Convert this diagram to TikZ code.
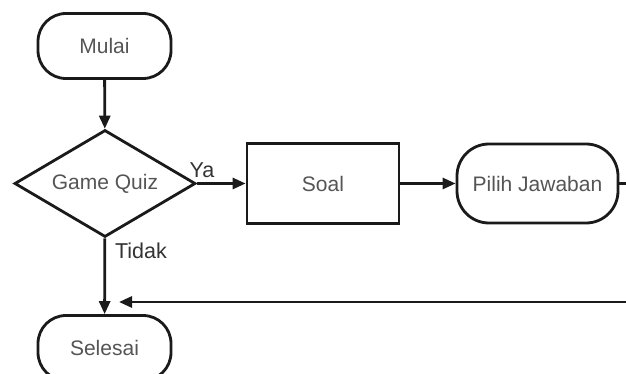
\documentclass[tikz,border=0pt]{standalone}
\usepackage{fontspec}
\setmainfont{Liberation Sans}
\usetikzlibrary{shapes.geometric,arrows.meta}
\definecolor{txt}{HTML}{555555}
\definecolor{lbl}{HTML}{333333}
\definecolor{ln}{HTML}{1A1A1A}
\tikzset{
  base/.style={draw=ln,line width=2.8pt,text=txt,font=\fontsize{21}{25}\selectfont,inner sep=0pt,fill=white},
  terminal/.style={base,rectangle,rounded corners=28pt,minimum width=133pt,minimum height=65pt},
  process/.style={base,rectangle,minimum width=152pt,minimum height=80pt},
  decision/.style={base,diamond,aspect=1.69,minimum width=181pt,minimum height=107pt},
  conn/.style={draw=ln,line width=2.8pt,-{Triangle[length=13pt,width=11pt]}},
  plain/.style={draw=ln,line width=2.8pt},
  lab/.style={text=lbl,font=\fontsize{21.5}{25}\selectfont,inner sep=0pt}
}
\begin{document}
\begin{tikzpicture}[x=1pt,y=-1pt]
\path[use as bounding box] (0,0) rectangle (626,374);
\clip (0,0) rectangle (626,374);
\fill[white] (0,0) rectangle (626,374);
\node[terminal] (mulai) at (104.5,46) {Mulai};
\node[decision] (quiz) at (105,183.5) {Game Quiz};
\node[process] (soal) at (323,183.5) {Soal};
\node[terminal,minimum width=161pt,minimum height=79pt,rounded corners=32pt] (pilih) at (537.5,183.5) {Pilih Jawaban};
\node[terminal] (selesai) at (104.5,348) {Selesai};
\coordinate (outA) at (660,183.5);
\coordinate (outB) at (660,302);
\coordinate (loopin) at (119,302);
\node[lab] (ya) at (202,170) {Ya};
\node[lab] (tidak) at (141,251) {Tidak};
\draw[conn] (mulai) -- (quiz);
\draw[conn] (quiz) -- (soal);
\draw[conn] (soal) -- (pilih);
\draw[plain] (pilih) -- (outA);
\draw[conn] (quiz) -- (selesai);
\draw[conn] (outB) -- (loopin);
\end{tikzpicture}
\end{document}
